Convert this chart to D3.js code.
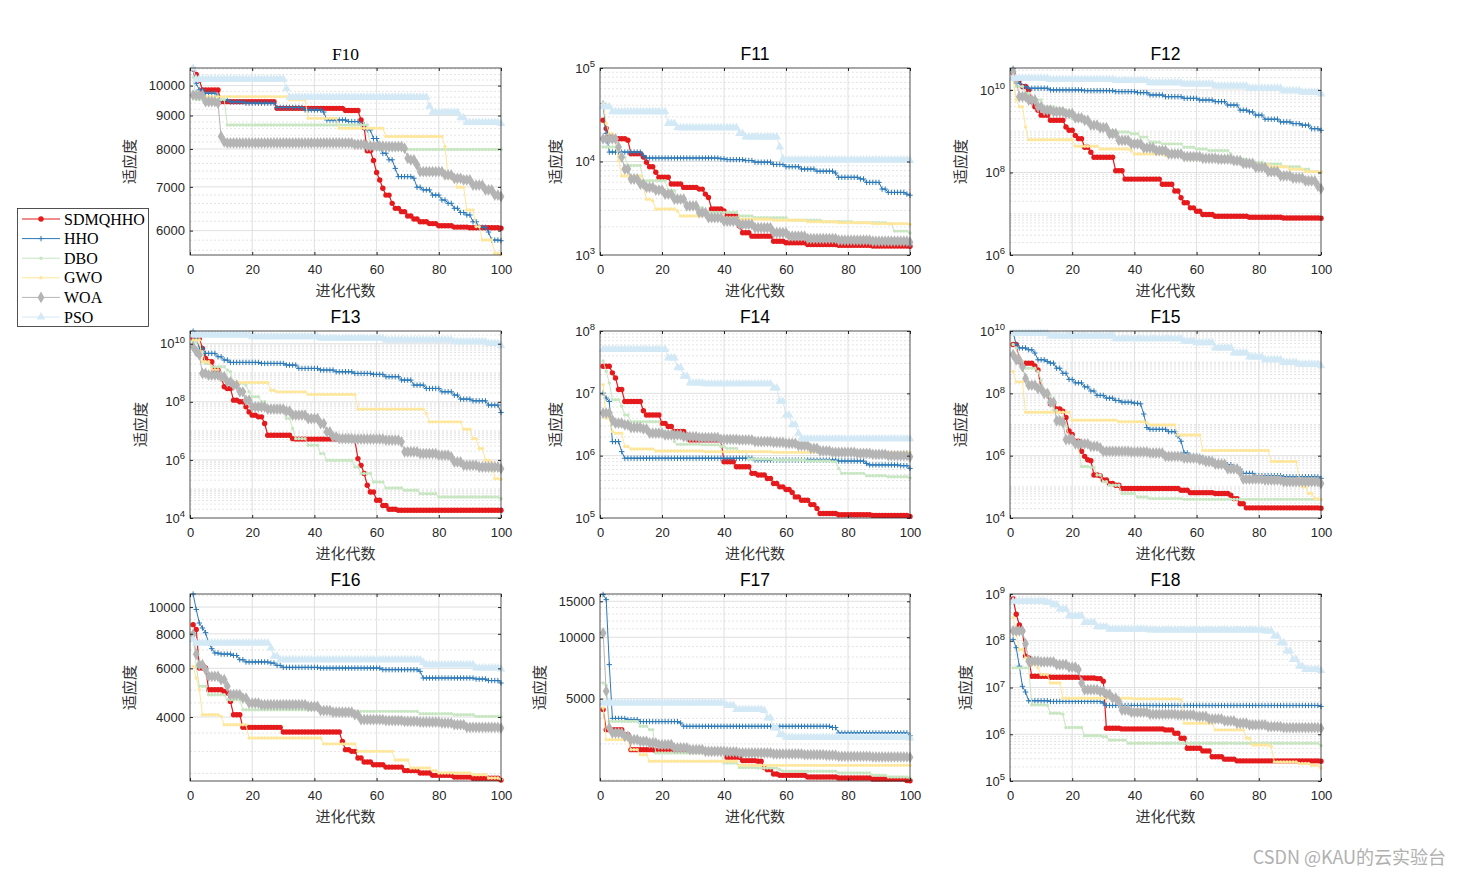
<!DOCTYPE html>
<html><head><meta charset="utf-8">
<script src="https://cdn.jsdelivr.net/npm/d3@7/dist/d3.min.js"></script>
<style>body{margin:0;background:#fff}svg{display:block}</style>
</head><body>
<script>
// ---------------- DATA (step breakpoints: [iteration, best fitness]) ----------------
const algorithms = ["SDMQHHO","HHO","DBO","GWO","WOA","PSO"];
const functionNames = ["F10","F11","F12","F13","F14","F15","F16","F17","F18"];
const xTicks = [0,20,40,60,80,100];

const F10_SDMQHHO=[[1,10600],[2,10400],[3,10200],[4,9850],[10,9450],[28,9230],[50,9160],[55,8860],[56,8620],[57,7950],[59,7680],[60,7365],[61,7170],[62,6966],[63,6800],[65,6605],[66,6490],[68,6415],[70,6317],[72,6250],[74,6190],[77,6150],[80,6105],[85,6075],[90,6062],[100,6050]];
const F10_HHO=[[1,10600],[2,10080],[3,9850],[5,9735],[9,9640],[10,9507],[13,9440],[18,9400],[28,9260],[37,9180],[43,9110],[44,8860],[51,8810],[55,8705],[57,8555],[59,8300],[61,8067],[62,7880],[64,7700],[66,7470],[67,7257],[72,7215],[73,6990],[75,6925],[78,6800],[81,6683],[83,6605],[85,6490],[87,6395],[89,6340],[91,6190],[93,6070],[96,5970],[97,5804],[100,5790]];
const F10_DBO=[[1,10300],[2,9520],[12,8706],[58,8020],[60,7985]];
const F10_GWO=[[1,9620],[32,9510],[38,8910],[48,8604],[63,8360],[82,8067],[83,7215],[86,6990],[89,6452],[92,6085],[94,5804],[98,5539],[100,5510]];
const F10_WOA=[[1,9670],[5,9450],[9,9400],[10,8360],[11,8200],[12,8170],[53,8130],[57,8080],[63,8067],[69,8020],[70,7740],[71,7695],[73,7560],[74,7385],[82,7300],[85,7215],[88,7172],[91,7040],[95,6925],[98,6800],[100,6765]];
const F10_PSO=[[1,10630],[2,10225],[31,9900],[32,9600],[77,9300],[78,9100],[87,8930],[89,8780],[100,8750]];

const F11_SDMQHHO=[[1,27700],[2,22500],[3,18300],[5,17500],[9,16850],[10,12100],[14,11140],[15,9835],[16,8800],[18,7680],[19,6775],[23,5741],[27,5284],[32,5070],[34,4478],[35,4122],[36,3100],[40,2960],[41,2615],[45,2040],[46,1730],[49,1590],[56,1404],[60,1350],[67,1293],[77,1270],[88,1250],[100,1240]];
const F11_HHO=[[1,41900],[2,20000],[3,12610],[14,11610],[15,10900],[39,10690],[41,10470],[47,10250],[50,9835],[56,9300],[60,8800],[65,8300],[70,7880],[76,7520],[77,6775],[84,6500],[86,5980],[91,5070],[93,4670],[99,4478],[100,4360]];
const F11_DBO=[[1,14280],[6,11140],[9,9060],[14,6237],[22,4864],[25,4122],[28,3215],[34,2860],[45,2615],[50,2508],[61,2350],[72,2270],[82,2217],[93,2160],[95,1801],[100,1720]];
const F11_GWO=[[1,41900],[2,25500],[3,19890],[5,16850],[6,10250],[7,7000],[14,5284],[15,3950],[17,3794],[18,3100],[25,2960],[26,2615],[35,2508],[45,2410],[56,2350],[67,2270],[77,2217],[88,2165],[100,2125]];
const F11_WOA=[[1,17500],[6,14280],[7,11140],[8,8300],[10,6500],[13,5741],[15,5284],[18,4950],[21,4478],[24,3950],[28,3350],[32,2840],[35,2508],[40,2309],[45,2125],[50,1956],[56,1730],[61,1590],[67,1500],[77,1440],[88,1404],[100,1370]];
const F11_PSO=[[1,38580],[4,34000],[22,25500],[25,23000],[45,19890],[47,18300],[58,14280],[59,10690],[60,10400],[100,10250]];

const F12_SDMQHHO=[[1,2.56e10],[2,1.76e10],[4,1.21e10],[6,1e10],[7,5.2e9],[8,3.9e9],[9,3.24e9],[10,2.45e9],[13,1.84e9],[18,1.26e9],[19,1.05e9],[21,7.9e8],[22,6.6e8],[24,4.1e8],[26,3.1e8],[27,2.33e8],[34,1.1e8],[37,6.9e7],[49,5.18e7],[53,3.56e7],[55,2.44e7],[56,1.85e7],[58,1.39e7],[60,1.15e7],[62,9.55e6],[66,8.7e6],[77,8.2e6],[88,7.9e6],[100,7.75e6]];
const F12_HHO=[[1,3.3e10],[2,1.46e10],[4,1.21e10],[6,1.1e10],[13,1e10],[24,9.6e9],[34,9.1e9],[41,8.6e9],[45,7.55e9],[50,6.87e9],[56,6.25e9],[61,5.69e9],[66,5.2e9],[70,4.3e9],[74,3.24e9],[77,2.94e9],[79,2.45e9],[82,1.95e9],[87,1.68e9],[91,1.53e9],[94,1.4e9],[97,1.15e9],[100,1.05e9]];
const F12_DBO=[[1,2.1e10],[2,1.21e10],[5,8.3e9],[7,5.7e9],[11,3.9e9],[15,3.55e9],[18,2.94e9],[20,2e9],[25,1.53e9],[28,1.26e9],[31,1.05e9],[34,9.6e8],[39,8.7e8],[42,7.2e8],[45,5.4e8],[49,4.94e8],[56,4.1e8],[60,3.7e8],[64,3.4e8],[71,2.81e8],[72,2.1e8],[77,1.75e8],[82,1.6e8],[88,1.37e8],[94,1.2e8],[97,1.05e8],[100,1e8]];
const F12_GWO=[[1,1.76e10],[2,5.7e9],[3,3.9e9],[5,1.26e9],[6,6.2e8],[21,4.3e8],[29,3.7e8],[39,3.4e8],[40,2.81e8],[50,2.55e8],[58,2.1e8],[66,1.86e8],[73,1.66e8],[79,1.54e8],[84,1.37e8],[90,1.2e8],[95,1.05e8],[100,1.03e8]];
const F12_WOA=[[1,2.8e10],[2,1.76e10],[3,6.87e9],[6,5.7e9],[9,3.9e9],[11,3.24e9],[14,2.94e9],[18,2.68e9],[21,2.1e9],[24,1.84e9],[26,1.4e9],[29,1.22e9],[32,8.7e8],[35,5.97e8],[39,4.94e8],[43,3.95e8],[47,3.4e8],[51,2.81e8],[56,2.42e8],[62,2.2e8],[67,2.1e8],[72,1.93e8],[75,1.66e8],[79,1.33e8],[83,1.05e8],[87,8.3e7],[91,7.3e7],[95,6.25e7],[99,4.7e7],[100,4.05e7]];
const F12_PSO=[[1,1.93e10],[13,1.8e10],[34,1.7e10],[45,1.5e10],[56,1.4e10],[66,1.25e10],[77,1.1e10],[88,9.6e9],[94,8.8e9],[100,8e9]];

const F13_SDMQHHO=[[1,1.53e10],[4,6.9e9],[5,3.12e9],[6,2.39e9],[8,1.24e9],[10,7.3e8],[11,3.3e8],[12,2.88e8],[14,1.14e8],[16,1e8],[18,6.7e7],[19,4.5e7],[20,3.47e7],[22,3.04e7],[24,1.79e7],[25,7.1e6],[33,5.4e6],[34,5.2e6],[53,4.8e6],[54,1.11e6],[55,6.5e5],[56,3.4e5],[57,1.34e5],[58,7.9e4],[60,4.1e4],[62,2.7e4],[64,2e4],[67,1.84e4],[100,1.84e4]];
const F13_HHO=[[1,2.7e10],[2,1.53e10],[3,6.9e9],[5,4.64e9],[9,3.56e9],[11,2.73e9],[13,2.27e9],[23,2.1e9],[31,1.84e9],[35,1.41e9],[42,1.24e9],[47,1.08e9],[53,9.5e8],[59,8.8e8],[63,7.3e8],[68,5.6e8],[72,3.76e8],[76,2.88e8],[81,2.21e8],[85,1.7e8],[87,1.24e8],[91,1.08e8],[96,7.7e7],[100,4.3e7]];
const F13_DBO=[[1,1.17e10],[3,5.3e9],[5,2.1e9],[7,1.61e9],[12,1.24e9],[13,1.08e9],[14,4.3e8],[18,3.76e8],[19,2.21e8],[20,1.49e8],[23,1e8],[25,5.9e7],[29,4.5e7],[31,2.66e7],[33,1.2e7],[34,5.4e6],[38,3.2e6],[42,1.65e6],[44,9.7e5],[53,5.7e5],[55,3.4e5],[59,1.74e5],[63,1.08e5],[69,9e4],[74,6.9e4],[80,5.3e4],[100,4.6e4]];
const F13_GWO=[[1,1.34e10],[4,2.4e9],[7,1.24e9],[10,5.6e8],[12,4.6e8],[26,2.5e8],[28,2.2e8],[38,1.8e8],[54,5.6e7],[76,4e7],[77,2.04e7],[88,1.14e7],[91,5.4e6],[93,2.46e6],[95,9.7e5],[97,8.5e5],[98,2.27e5],[100,2.15e5]];
const F13_WOA=[[1,7.9e9],[2,5.3e9],[3,4.1e9],[4,9.5e8],[6,8.3e8],[10,7.3e8],[12,4.9e8],[14,3.76e8],[16,2.2e8],[18,1.14e8],[20,6.7e7],[25,5.6e7],[31,4.8e7],[33,3.5e7],[38,2.66e7],[42,1.79e7],[44,9.2e6],[46,6.2e6],[48,5.4e6],[53,5.2e6],[63,4.8e6],[68,4.2e6],[69,1.89e6],[74,1.65e6],[80,1.45e6],[84,1.27e6],[85,8.5e5],[88,6.5e5],[93,5.7e5],[100,5e5]];
const F13_PSO=[[1,1.99e10],[20,1.74e10],[42,1.53e10],[63,1.34e10],[85,1.17e10],[96,1.03e10],[100,8.5e9]];

const F14_SDMQHHO=[[1,2.72e7],[4,2.13e7],[5,1.77e7],[6,1.15e7],[8,7.4e6],[14,5.25e6],[15,4.5e6],[20,3.3e6],[22,2.94e6],[24,2.44e6],[28,2.15e6],[29,1.79e6],[40,8e5],[44,6.65e5],[49,5.2e5],[51,4.9e5],[54,4.3e5],[56,3.58e5],[58,3.16e5],[60,2.86e5],[62,2.56e5],[63,2.18e5],[65,1.93e5],[68,1.64e5],[70,1.42e5],[71,1.18e5],[77,1.13e5],[88,1.1e5],[100,1.06e5]];
const F14_HHO=[[1,1.01e7],[2,8.4e6],[3,7.4e6],[4,1.68e6],[7,1.16e6],[8,9.1e5],[50,8.5e5],[77,8.2e5],[86,7.5e5],[87,7.1e5],[97,6.9e5],[100,6.25e5]];
const F14_DBO=[[1,3.3e7],[2,2.26e7],[3,1.47e7],[4,7.9e6],[7,6.2e6],[8,4.5e6],[10,3.5e6],[20,2.44e6],[24,1.68e6],[25,1.52e6],[33,1.49e6],[39,1.4e6],[41,1.31e6],[45,1.16e6],[48,8.8e5],[56,8.5e5],[67,8.2e5],[75,8e5],[77,6.25e5],[78,5.2e5],[86,4.75e5],[93,4.6e5],[100,4.4e5]];
const F14_GWO=[[1,1.38e7],[2,4e6],[4,2.44e6],[5,2.29e6],[8,1.4e6],[10,1.28e6],[18,1.19e6],[34,1.16e6],[56,1.13e6],[100,1.13e6]];
const F14_WOA=[[1,4.82e6],[4,3.76e6],[5,3.32e6],[8,3.13e6],[10,2.83e6],[14,2.69e6],[16,2.29e6],[21,2.15e6],[27,2.02e6],[32,1.95e6],[39,1.83e6],[45,1.79e6],[50,1.68e6],[56,1.64e6],[60,1.58e6],[64,1.45e6],[68,1.31e6],[71,1.19e6],[75,1.13e6],[83,1.09e6],[88,1.05e6],[93,1e6],[100,9.6e5]];
const F14_PSO=[[1,5.06e7],[22,3.7e7],[25,2.57e7],[27,1.88e7],[29,1.47e7],[34,1.42e7],[56,1.22e7],[58,7.4e6],[60,4.5e6],[62,3.13e6],[64,2.29e6],[65,1.9e6],[66,1.86e6],[100,1.86e6]];

const F15_SDMQHHO=[[1,3.67e9],[3,1.05e9],[4,9.3e8],[8,7.6e8],[9,5.6e8],[10,1.42e8],[11,9.8e7],[13,4.6e7],[15,3.16e7],[17,2.65e7],[18,1.69e7],[19,6.2e6],[20,4.8e6],[21,2.93e6],[23,1.38e6],[24,9.5e5],[25,7.4e5],[26,6.9e5],[27,2.4e5],[29,2.28e5],[30,1.65e5],[32,1.28e5],[34,1.13e5],[36,8.8e4],[55,7.8e4],[58,6.5e4],[66,6.1e4],[71,5.35e4],[72,4.2e4],[74,2.86e4],[76,2.12e4],[100,2.07e4]];
const F15_HHO=[[1,8.8e9],[2,3.67e9],[3,2.86e9],[6,2.5e9],[8,1.96e9],[9,1.19e9],[12,1.05e9],[13,9.3e8],[15,6.4e8],[17,4.4e8],[19,2.79e8],[21,2.17e8],[24,1.61e8],[26,1.19e8],[28,8.6e7],[31,7e7],[34,5.9e7],[36,5.2e7],[40,4.8e7],[42,4.6e7],[43,2.17e7],[44,8e6],[45,7e6],[51,5.9e6],[54,4.27e6],[55,2.9e6],[56,1.22e6],[58,9.5e5],[62,8e5],[65,6.5e5],[69,5.1e5],[72,3.7e5],[75,2.7e5],[79,2.28e5],[88,2.1e5],[100,1.87e5]];
const F15_DBO=[[1,3.67e9],[2,2.86e9],[3,1.05e9],[5,6.4e8],[9,5e8],[10,2.65e8],[11,1.25e8],[13,8.6e7],[14,2.8e7],[16,1.69e7],[18,9e6],[19,4.27e6],[21,2.3e6],[22,1.78e6],[23,4.5e5],[26,4.2e5],[28,2.4e5],[30,1.46e5],[32,1.13e5],[36,6.1e4],[41,4.7e4],[45,4.2e4],[56,3.96e4],[100,3.86e4]];
const F15_GWO=[[1,5e8],[2,2.34e8],[5,2.46e7],[20,1.38e7],[35,1.22e7],[44,1.16e7],[45,9.7e6],[54,4.6e6],[62,1.46e6],[84,6.5e5],[93,1.87e5],[94,1e5],[96,6.1e4],[98,4.2e4],[100,3.96e4]];
const F15_WOA=[[1,1.73e9],[2,1.19e9],[4,7.2e8],[5,3e8],[6,1.82e8],[9,1.42e8],[11,9.8e7],[13,5.2e7],[15,1.32e7],[17,1.16e7],[18,3.3e6],[21,2.4e6],[26,2e6],[29,1.78e6],[30,1.38e6],[39,1.32e6],[45,1.22e6],[50,9.5e5],[56,8.4e5],[61,7.4e5],[63,6.5e5],[66,5.35e5],[70,3.77e5],[74,2.93e5],[75,1.78e5],[82,1.65e5],[88,1.46e5],[100,1.28e5]];
const F15_PSO=[[1,8.4e9],[13,6.9e9],[34,5.6e9],[56,4.7e9],[60,4.2e9],[66,2.86e9],[72,1.96e9],[77,1.46e9],[82,1.19e9],[88,9.8e8],[93,8.6e8],[100,7.6e8]];

const F16_SDMQHHO=[[1,8635],[2,8300],[3,6015],[6,5022],[11,4953],[12,4890],[13,4557],[14,4078],[17,3670],[30,3530],[49,3266],[50,3048],[52,3005],[54,2843],[56,2750],[59,2689],[63,2635],[69,2560],[74,2510],[78,2460],[85,2425],[91,2400],[100,2365]];
const F16_HHO=[[1,11150],[2,9800],[3,8755],[4,8400],[5,8080],[6,7410],[7,7070],[8,6817],[10,6760],[14,6680],[16,6450],[18,6330],[26,6272],[28,6150],[30,6050],[42,6015],[62,5935],[74,5853],[75,5537],[92,5490],[96,5420],[100,5310]];
const F16_DBO=[[1,7900],[2,6100],[3,5170],[6,4818],[12,4622],[17,4251],[42,4193],[74,4110],[85,4078],[92,4022],[100,4000]];
const F16_GWO=[[1,6100],[2,5537],[3,5022],[4,4078],[10,4022],[11,3752],[19,3358],[43,3197],[54,3005],[66,2795],[71,2615],[78,2560],[80,2510],[91,2474],[96,2406],[100,2380]];
const F16_WOA=[[1,7970],[2,6750],[3,6185],[5,5935],[6,5615],[10,5460],[12,5165],[13,4818],[17,4686],[19,4494],[23,4432],[38,4371],[42,4222],[46,4165],[53,4078],[55,3911],[63,3884],[69,3857],[74,3830],[81,3804],[85,3752],[89,3670],[100,3649]];
const F16_PSO=[[1,7620],[2,7410],[26,7110],[27,6630],[29,6450],[75,6300],[76,6185],[92,6015],[100,5970]];

const F17_SDMQHHO=[[1,4420],[2,3524],[8,3330],[10,2812],[18,2780],[40,2760],[41,2580],[46,2485],[51,2466],[53,2300],[54,2244],[56,2137],[58,2105],[67,2066],[77,2043],[88,2020],[99,1985],[100,1978]];
const F17_HHO=[[1,16200],[2,15290],[3,7340],[4,4000],[9,3945],[13,3860],[26,3800],[27,3660],[75,3610],[77,3394],[100,3290]];
const F17_DBO=[[1,5970],[2,5800],[3,3870],[13,3660],[16,3524],[18,2709],[39,2690],[40,2420],[45,2300],[51,2287],[58,2244],[59,2203],[77,2162],[88,2105],[93,2066],[100,2043]];
const F17_GWO=[[1,4500],[2,3148],[10,2812],[13,2658],[16,2466],[45,2356],[100,2356]];
const F17_WOA=[[1,10490],[2,5440],[3,3592],[4,3394],[8,3268],[10,3148],[13,3088],[16,3032],[19,2975],[24,2866],[29,2812],[34,2760],[41,2740],[45,2709],[56,2680],[66,2658],[73,2640],[77,2609],[88,2590],[100,2580]];
const F17_PSO=[[1,4762],[39,4762],[41,4630],[44,4420],[53,4370],[54,4020],[56,3592],[58,3330],[60,3230],[100,3208]];

const F18_SDMQHHO=[[1,7.8e8],[2,3.7e8],[3,2.18e8],[4,1.62e8],[5,4.7e7],[6,4.3e7],[7,1.74e7],[13,1.66e7],[23,1.6e7],[28,1.55e7],[30,1.36e7],[31,1.34e6],[36,1.3e6],[50,1.24e6],[53,1.05e6],[55,8.2e5],[57,5e5],[62,4.4e5],[65,3.3e5],[69,2.93e5],[73,2.7e5],[100,2.65e5]];
const F18_HHO=[[1,1.07e8],[2,7.1e7],[3,2.86e7],[4,1.06e7],[5,8e6],[6,5.2e6],[13,5.03e6],[30,4.63e6],[31,4.13e6],[100,3.93e6]];
const F18_DBO=[[1,2.63e7],[7,4.27e6],[12,4.13e6],[13,2.82e6],[17,2.69e6],[18,1.39e6],[24,9.3e5],[30,8.9e5],[32,7.5e5],[38,6.4e5],[100,5.7e5]];
const F18_GWO=[[1,3.14e8],[2,1.37e8],[3,6.5e7],[5,4.3e7],[7,3.1e7],[9,2.63e7],[10,1.89e7],[13,1.25e7],[17,5.9e6],[40,5.7e6],[55,5.5e6],[56,1.72e6],[66,1.24e6],[76,8.2e5],[78,5.9e5],[84,5.4e5],[85,2.56e5],[93,2.36e5],[97,2.17e5],[100,1.9e5]];
const F18_WOA=[[1,1.62e8],[5,8.65e7],[6,3.66e7],[10,3.54e7],[15,3.1e7],[19,2.72e7],[22,2.42e7],[23,1.25e7],[24,8.98e6],[29,8.3e6],[31,7.2e6],[33,5.9e6],[35,5e6],[36,3.3e6],[39,2.97e6],[45,2.69e6],[54,2.6e6],[60,2.4e6],[64,2.13e6],[69,1.93e6],[73,1.72e6],[77,1.58e6],[83,1.46e6],[88,1.39e6],[100,1.34e6]];
const F18_PSO=[[1,6.95e8],[12,6.6e8],[14,5.9e8],[16,4.75e8],[19,3.4e8],[24,2.45e8],[28,1.98e8],[32,1.76e8],[45,1.7e8],[82,1.62e8],[85,1.27e8],[87,9.1e7],[89,6e7],[91,3.98e7],[93,2.86e7],[95,2.42e7],[100,2.3e7]];

// y-axis limits and tick labels
const yDomains = [[5506,10640],[1e3,1e5],[1e6,3.4e10],[1e4,2.74e10],[1e5,1e8],[1e4,1e10],[2347,11150],[1974,16290],[1e5,1e9]];
const yTicks = [
  [6000,7000,8000,9000,10000],
  [1e3,1e4,1e5],
  [1e6,1e8,1e10],
  [1e4,1e6,1e8,1e10],
  [1e5,1e6,1e7,1e8],
  [1e4,1e6,1e8,1e10],
  [4000,6000,8000,10000],
  [5000,10000,15000],
  [1e5,1e6,1e7,1e8,1e9]
];
const yTickStyle = ["plain","pow","pow","pow","pow","pow","plain","plain","pow"];
const yMinorGrid = [
  [5600,5800,6200,6400,6600,6800,7200,7400,7600,7800,8200,8400,8600,8800,9200,9400,9600,9800,10200,10400,10600],
  null,null,null,null,null,
  [2500,3000,3500,4500,5000,7000,9000,11000],
  [2000,3000,4000,6000,7000,8000,9000,11000,12000,13000,14000,16000],
  null
];
const seriesData = {
  F10:[F10_SDMQHHO,F10_HHO,F10_DBO,F10_GWO,F10_WOA,F10_PSO],
  F11:[F11_SDMQHHO,F11_HHO,F11_DBO,F11_GWO,F11_WOA,F11_PSO],
  F12:[F12_SDMQHHO,F12_HHO,F12_DBO,F12_GWO,F12_WOA,F12_PSO],
  F13:[F13_SDMQHHO,F13_HHO,F13_DBO,F13_GWO,F13_WOA,F13_PSO],
  F14:[F14_SDMQHHO,F14_HHO,F14_DBO,F14_GWO,F14_WOA,F14_PSO],
  F15:[F15_SDMQHHO,F15_HHO,F15_DBO,F15_GWO,F15_WOA,F15_PSO],
  F16:[F16_SDMQHHO,F16_HHO,F16_DBO,F16_GWO,F16_WOA,F16_PSO],
  F17:[F17_SDMQHHO,F17_HHO,F17_DBO,F17_GWO,F17_WOA,F17_PSO],
  F18:[F18_SDMQHHO,F18_HHO,F18_DBO,F18_GWO,F18_WOA,F18_PSO]
};

// ---------------- STYLE ----------------
const colors = ["#E41A1C","#2B79B8","#C7E6C1","#FFE699","#B4B4B4","#D4E9F6"];
const markers = ["circle","plus","dot","dot","diamond","triangle"];
const colX = [190,600,1010], colW = [311,310,311];
const rowY = [68,331,594], panelH = 187;
const tickFont = "'Liberation Sans', Arial, sans-serif";
const cjkFont = "'Noto Sans CJK SC', sans-serif";

const svg = d3.select("body").append("svg").attr("width",1460).attr("height",877);

// expand step breakpoints to per-iteration values (value held until next change)
function expand(bp){
  const out=[]; let j=0;
  for(let i=1;i<=100;i++){ while(j+1<bp.length && bp[j+1][0]<=i) j++; out.push([i,bp[j][1]]); }
  return out;
}

function drawMarkers(g, pts, type, color){
  if(type==="circle"||type==="dot"){
    g.selectAll("circle").data(pts).join("circle")
      .attr("cx",d=>d[0]).attr("cy",d=>d[1]).attr("r",type==="circle"?2.7:1.7).attr("fill",color);
  } else if(type==="plus"){
    g.selectAll("path").data(pts).join("path")
      .attr("d","M-2.7,0H2.7M0,-2.7V2.7").attr("transform",d=>`translate(${d[0]},${d[1]})`)
      .attr("stroke",color).attr("stroke-width",1).attr("fill","none");
  } else if(type==="diamond"){
    const p=d3.symbol(d3.symbolDiamond,40)();
    g.selectAll("path").data(pts).join("path").attr("d",p)
      .attr("transform",d=>`translate(${d[0]},${d[1]})`).attr("fill",color);
  } else if(type==="triangle"){
    const p=d3.symbol(d3.symbolTriangle,32)();
    g.selectAll("path").data(pts).join("path").attr("d",p)
      .attr("transform",d=>`translate(${d[0]},${d[1]})`).attr("fill",color);
  }
}

function powLabel(sel){
  sel.each(function(d){
    const e=Math.round(Math.log10(d));
    const t=d3.select(this); t.text("");
    t.append("tspan").text("10");
    t.append("tspan").attr("dy","-0.55em").attr("font-size","9.5px").text(e);
  });
}

functionNames.forEach((fn,idx)=>{
  const c=idx%3, r=Math.floor(idx/3);
  const left=colX[c], right=colX[c]+colW[c], top=rowY[r], bottom=rowY[r]+panelH;
  const x=d3.scaleLinear().domain([0,100]).range([left,right]);
  const y=d3.scaleLog().domain(yDomains[idx]).range([bottom,top]);
  const g=svg.append("g");

  g.append("rect").attr("x",left).attr("y",top).attr("width",right-left).attr("height",panelH).attr("fill","#fff");

  // minor grid
  let minors = yMinorGrid[idx];
  if(!minors){
    minors=[];
    const lo=Math.floor(Math.log10(yDomains[idx][0])), hi=Math.ceil(Math.log10(yDomains[idx][1]));
    for(let e=lo;e<=hi;e++) for(let k=2;k<=9;k++){ const v=k*Math.pow(10,e); if(v>yDomains[idx][0]&&v<yDomains[idx][1]) minors.push(v); }
    for(let e=lo;e<=hi;e++){ const v=Math.pow(10,e); if(v>yDomains[idx][0]&&v<yDomains[idx][1]&&!yTicks[idx].includes(v)) minors.push(v); }
  }
  g.append("g").selectAll("line").data(minors).join("line")
    .attr("x1",left).attr("x2",right).attr("y1",d=>y(d)).attr("y2",d=>y(d))
    .attr("stroke","#d9d9d9").attr("stroke-width",0.7).attr("stroke-dasharray","2,2");
  // major grid
  g.append("g").selectAll("line").data(yTicks[idx].filter(v=>v>yDomains[idx][0]&&v<yDomains[idx][1])).join("line")
    .attr("x1",left).attr("x2",right).attr("y1",d=>y(d)).attr("y2",d=>y(d))
    .attr("stroke","#dcdcdc").attr("stroke-width",0.9);
  g.append("g").selectAll("line").data(xTicks.slice(1,-1)).join("line")
    .attr("x1",d=>x(d)).attr("x2",d=>x(d)).attr("y1",top).attr("y2",bottom)
    .attr("stroke","#dcdcdc").attr("stroke-width",0.9);

  // series
  const line=d3.line().x(d=>x(d[0])).y(d=>y(d[1]));
  seriesData[fn].forEach((bp,si)=>{
    const pts=expand(bp);
    const sg=g.append("g");
    sg.append("path").attr("d",line(pts)).attr("fill","none").attr("stroke",colors[si]).attr("stroke-width",si===0?1.2:1);
    drawMarkers(sg.append("g"), pts.map(p=>[x(p[0]),y(p[1])]), markers[si], colors[si]);
  });

  // axes
  const ax=g.append("g").attr("transform",`translate(0,${bottom})`)
    .call(d3.axisBottom(x).tickValues(xTicks).tickSize(-3).tickPadding(10));
  ax.select(".domain").remove();
  ax.selectAll("text").attr("font-family",tickFont).attr("font-size","13px").attr("fill","#262626");
  ax.selectAll("line").attr("stroke","#262626");
  const axt=g.append("g").attr("transform",`translate(0,${top})`)
    .call(d3.axisTop(x).tickValues(xTicks).tickSize(-3).tickFormat(""));
  axt.select(".domain").remove(); axt.selectAll("line").attr("stroke","#262626");

  const yv=yTicks[idx].filter(v=>v>=yDomains[idx][0]*0.999&&v<=yDomains[idx][1]*1.001);
  const ay=g.append("g").attr("transform",`translate(${left},0)`)
    .call(d3.axisLeft(y).tickValues(yv).tickSize(-3).tickPadding(5).tickFormat(d=>String(d)));
  ay.select(".domain").remove();
  ay.selectAll("line").attr("stroke","#262626");
  ay.selectAll("text").attr("font-family",tickFont).attr("font-size","13px").attr("fill","#262626");
  if(yTickStyle[idx]==="pow") powLabel(ay.selectAll(".tick text"));
  const ayr=g.append("g").attr("transform",`translate(${right},0)`)
    .call(d3.axisRight(y).tickValues(yv).tickSize(-3).tickFormat(""));
  ayr.select(".domain").remove(); ayr.selectAll("line").attr("stroke","#262626");

  g.append("rect").attr("x",left).attr("y",top).attr("width",right-left).attr("height",panelH)
    .attr("fill","none").attr("stroke","#262626").attr("stroke-width",0.8);

  // title
  g.append("text").attr("x",(left+right)/2).attr("y",top-8).attr("text-anchor","middle")
    .attr("font-family", fn==="F10" ? "'Liberation Serif', serif" : tickFont)
    .attr("font-size","17.5px").attr("fill","#000").text(fn);
  // x label
  g.append("text").attr("x",(left+right)/2).attr("y",bottom+41).attr("text-anchor","middle")
    .attr("font-family",cjkFont).attr("font-size","15px").attr("fill","#333").text("进化代数");
  // y label
  let maxW=0; ay.selectAll("text").each(function(){ maxW=Math.max(maxW,this.getBBox().width); });
  const lx=left-8-maxW-11, ly=(top+bottom)/2;
  g.append("text").attr("transform",`translate(${lx},${ly}) rotate(-90)`).attr("text-anchor","middle")
    .attr("font-family",cjkFont).attr("font-size","15px").attr("fill","#333").text("适应度");
});

// legend
const lg=svg.append("g");
lg.append("rect").attr("x",17.5).attr("y",208.5).attr("width",131).attr("height",118)
  .attr("fill","#fff").attr("stroke","#262626").attr("stroke-width",0.8);
algorithms.forEach((name,i)=>{
  const yy=219+i*19.6;
  lg.append("line").attr("x1",22).attr("x2",60).attr("y1",yy).attr("y2",yy).attr("stroke",colors[i]).attr("stroke-width",i===0?1.2:1);
  drawMarkers(lg.append("g"),[[41,yy]],markers[i],colors[i]);
  lg.append("text").attr("x",64).attr("y",yy).attr("dy","0.35em")
    .attr("font-family","'Liberation Serif', 'Times New Roman', serif").attr("font-size","16px").attr("fill","#000").text(name);
});

// watermark
svg.append("text").attr("x",1446).attr("y",864).attr("text-anchor","end")
  .attr("font-family",cjkFont).attr("font-size","18px").attr("fill","#b0b0b0").text("CSDN @KAU的云实验台");
</script>
</body></html>
